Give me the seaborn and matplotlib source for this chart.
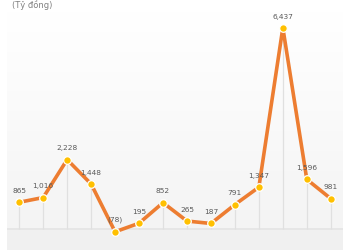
import numpy as np
import pandas as pd
import matplotlib
matplotlib.use("Agg")
import matplotlib.pyplot as plt
import seaborn as sns
from matplotlib.colors import LinearSegmentedColormap

periods = list(range(14))
values = [865, 1016, 2228, 1448, -78, 195, 852, 265, 187, 791, 1347, 6437, 1596, 981]
labels = ["865", "1,016", "2,228", "1,448", "(78)", "195", "852", "265", "187", "791", "1,347", "6,437", "1,596", "981"]
unit_label = "(Tỷ đồng)"

df = pd.DataFrame({"period": periods, "value": values})

sns.set_style("white")
plt.rcParams["font.family"] = ["DejaVu Sans"]

fig = plt.figure(figsize=(3.5, 2.5), dpi=100)
ax = fig.add_axes([7/350, 0, 336/350, 238/250])

ymin, ymax = -660, 6943
ax.set_xlim(-0.51, 13.51)
ax.set_ylim(ymin, ymax)

# gradient background
grad = np.linspace(0, 1, 256).reshape(-1, 1)
cmap = LinearSegmentedColormap.from_list("bg", ["#ffffff", "#f3f3f3"])
ax.imshow(grad, aspect="auto", cmap=cmap, extent=[0, 1, 0, 1], transform=ax.transAxes, zorder=0)
ax.axhspan(ymin, 0, color="#f0f0f0", zorder=0.5, lw=0)
ax.axhline(0, color="#e4e4e4", lw=1.2, zorder=1)

ax.vlines(df["period"], 0, df["value"], color="#e0e0e0", lw=0.9, zorder=1)

sns.lineplot(data=df, x="period", y="value", ax=ax, color="#ED7D31", lw=2.6, zorder=3)
sns.scatterplot(data=df, x="period", y="value", ax=ax, color="#FFC000", s=30,
                edgecolor="white", linewidth=0.9, zorder=4)

for x, y, t in zip(periods, values, labels):
    ax.annotate(t, (x, y), xytext=(0, 6), textcoords="offset points", ha="center",
                va="bottom", fontsize=5.3, color="#595959", zorder=5)

ax.set_xlabel("")
ax.set_ylabel("")
ax.set_xticks([])
ax.set_yticks([])
for s in ax.spines.values():
    s.set_visible(False)

fig.text(12/350, 1 - 0.5/250, unit_label, ha="left", va="top", fontsize=6, color="#808080")

fig.savefig("out.png", dpi=100)
